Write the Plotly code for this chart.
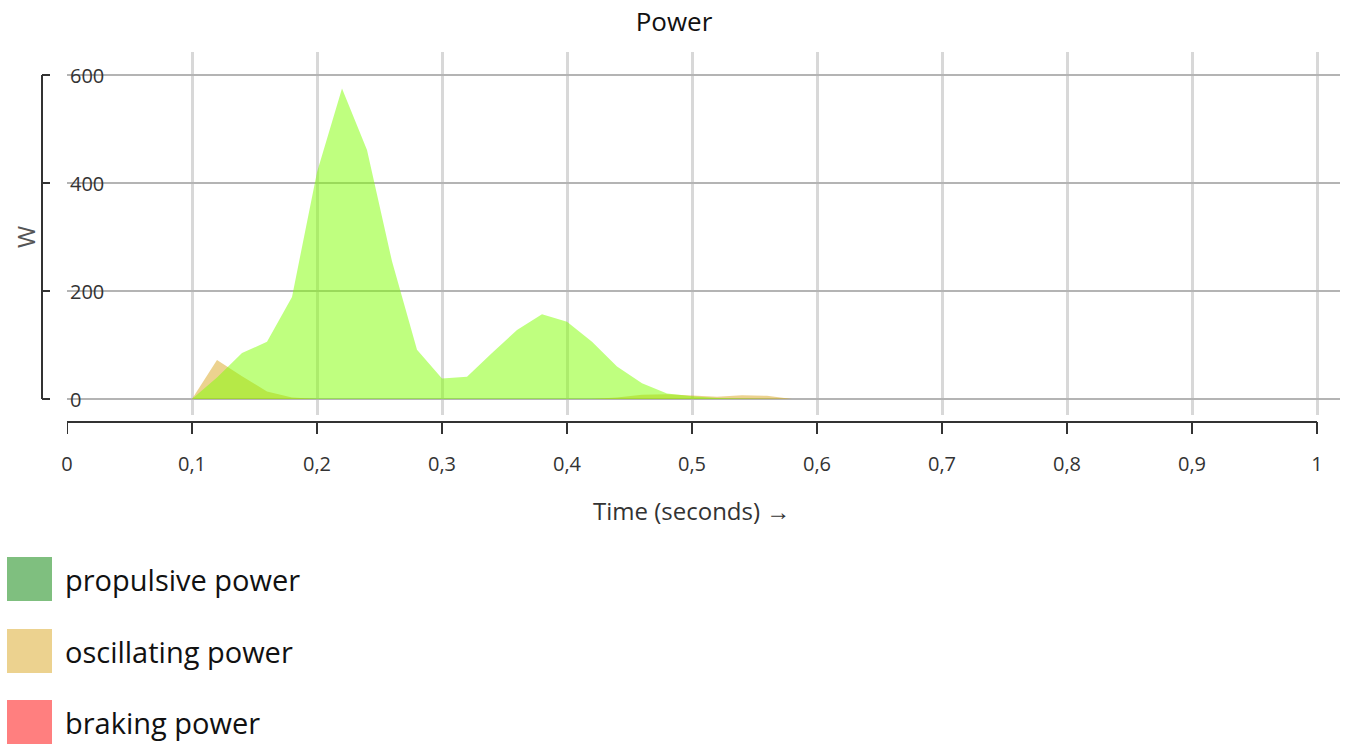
import plotly.graph_objects as go

# ---- data ----
time_s = [0.10, 0.12, 0.14, 0.16, 0.18, 0.20, 0.22, 0.24, 0.26, 0.28, 0.30, 0.32, 0.34,
          0.36, 0.38, 0.40, 0.42, 0.44, 0.46, 0.48, 0.50, 0.52, 0.54, 0.56, 0.58]
propulsive_power = [0, 40, 85, 106, 189, 420, 575, 461, 255, 91, 38, 41, 85,
                    128, 157, 143, 106, 60, 29, 10, 5, 2, 1, 0, 0]
oscillating_power = [0, 72, 42, 14, 3, 0, 0, 0, 0, 0, 0, 0, 0,
                     0, 0, 0, 0, 3, 8, 9, 6, 4, 7, 6, 0]
braking_power = [0] * len(time_s)

series_names = ["propulsive power", "oscillating power", "braking power"]
x_tickvals = [0, 0.1, 0.2, 0.3, 0.4, 0.5, 0.6, 0.7, 0.8, 0.9, 1]
x_ticktext = ["0", "0,1", "0,2", "0,3", "0,4", "0,5", "0,6", "0,7", "0,8", "0,9", "1"]
y_tickvals = [0, 200, 400, 600]
y_ticktext = ["0", "200", "400", "600"]

# ---- styling ----
FONT = "Open Sans, Noto Sans, sans-serif"
fill_colors = ["rgba(127,255,0,0.5)", "rgba(218,165,32,0.5)", "rgba(255,0,0,0.5)"]
legend_colors = ["rgba(0,128,0,0.5)", "rgba(218,165,32,0.5)", "rgba(255,0,0,0.5)"]

W, H = 1348, 745
L, R, T, B = 67, 8, 52, 330
plot_w = W - L - R
plot_h = H - T - B


def px_x(p):
    return (p - L) / plot_w


def px_y(p):
    return (H - B - p) / plot_h


fig = go.Figure()
series_vals = [propulsive_power, oscillating_power, braking_power]
# draw braking, oscillating, then propulsive on top
for i in [2, 1, 0]:
    fig.add_trace(go.Scatter(x=time_s, y=series_vals[i], name=series_names[i], mode="lines",
                             fill="tozeroy", fillcolor=fill_colors[i],
                             line=dict(width=0, color=fill_colors[i]), showlegend=False,
                             hoverinfo="x+y+name"))

shapes = []
axis_col = "#333333"
# y axis bracket
shapes.append(dict(type="line", xref="paper", yref="y", x0=px_x(42), x1=px_x(42), y0=0, y1=600,
                   line=dict(color=axis_col, width=2)))
for v in y_tickvals:
    shapes.append(dict(type="line", xref="paper", yref="y", x0=px_x(42), x1=px_x(50), y0=v, y1=v,
                       line=dict(color=axis_col, width=2)))
# x axis line
shapes.append(dict(type="line", xref="x", yref="paper", x0=0, x1=1, y0=px_y(422), y1=px_y(422),
                   line=dict(color=axis_col, width=2)))
for v in x_tickvals:
    shapes.append(dict(type="line", xref="x", yref="paper", x0=v, x1=v, y0=px_y(422), y1=px_y(434),
                       line=dict(color=axis_col, width=2)))

annotations = []
# y tick labels (inside the plot, left aligned)
for v, txt in zip(y_tickvals, y_ticktext):
    annotations.append(dict(xref="paper", yref="y", x=px_x(68), y=v, text=txt, showarrow=False,
                            xanchor="left", yanchor="middle",
                            font=dict(family=FONT, size=20, color="#333333")))
# legend
leg_tops = [557, 629, 700]
for name, col, top in zip(series_names, legend_colors, leg_tops):
    shapes.append(dict(type="rect", xref="paper", yref="paper", x0=px_x(7), x1=px_x(52),
                       y0=px_y(top + 44), y1=px_y(top), fillcolor=col, line=dict(width=0)))
    annotations.append(dict(xref="paper", yref="paper", x=px_x(63), y=px_y(top + 22), text=name,
                            showarrow=False, xanchor="left", yanchor="middle",
                            font=dict(family=FONT, size=29, color="#111111")))
# y axis title
annotations.append(dict(xref="paper", yref="paper", x=px_x(26), y=px_y(237), text="W", textangle=-90,
                        showarrow=False, xanchor="center", yanchor="middle",
                        font=dict(family=FONT, size=24, color="#555555")))
# x axis title
annotations.append(dict(xref="paper", yref="paper", x=px_x(691), y=px_y(510), text="Time (seconds) →",
                        showarrow=False, xanchor="center", yanchor="middle",
                        font=dict(family=FONT, size=24, color="#333333")))

fig.update_layout(
    width=W, height=H,
    margin=dict(l=L, r=R, t=T, b=B),
    paper_bgcolor="white", plot_bgcolor="white",
    font=dict(family=FONT, size=18, color="#333333"),
    title=dict(text="Power", x=0.5, xanchor="center", y=1 - 22 / H, yanchor="middle", yref="container",
               font=dict(family=FONT, size=26, color="#111111")),
    xaxis=dict(range=[0, 1 + 23 / 1250], tickvals=x_tickvals, ticktext=x_ticktext,
               showgrid=True, gridcolor="rgb(216,216,216)", gridwidth=3, zeroline=False,
               showline=False, ticks="outside", ticklen=31, tickcolor="rgba(0,0,0,0)",
               tickfont=dict(family=FONT, size=20, color="#333333")),
    yaxis=dict(range=[-16 / 0.54, (399 - 52) / 0.54],
               tickvals=y_tickvals, showticklabels=False,
               showgrid=True, gridcolor="rgb(180,180,180)", gridwidth=1.5, zeroline=False,
               showline=False),
    shapes=shapes, annotations=annotations,
)

fig.write_html("out.html", config={"displayModeBar": False},
               post_script="document.body.style.margin='0';document.body.style.overflow='hidden';")
